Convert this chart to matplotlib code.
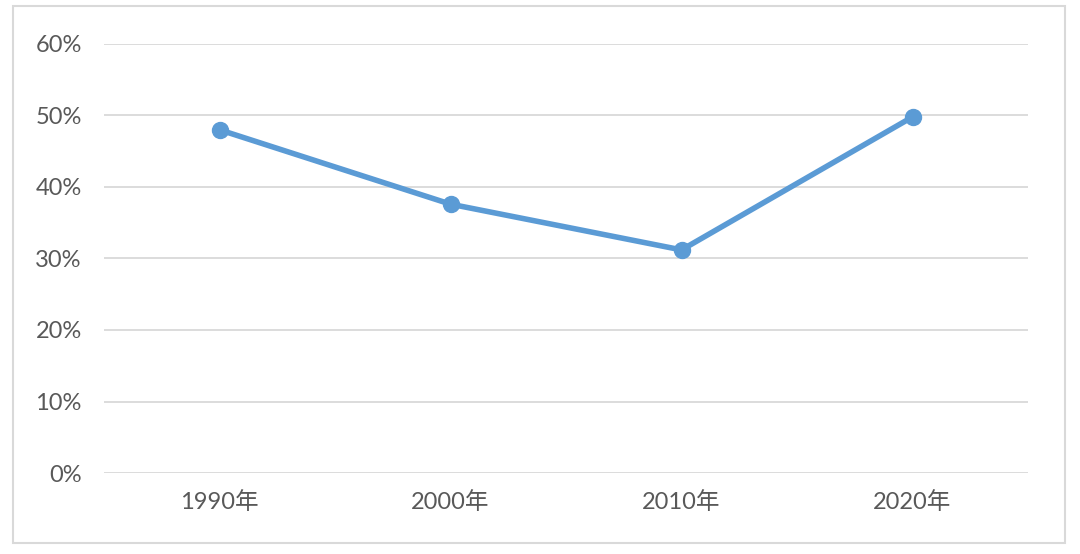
import matplotlib
matplotlib.use('Agg')
from matplotlib import pyplot as plt
from matplotlib.patches import Rectangle

plt.rcParams['font.family'] = ['Lato', 'Noto Sans CJK SC', 'DejaVu Sans']

years = ['1990年', '2000年', '2010年', '2020年']
share = [48.0, 37.6, 31.2, 49.8]
yticks = [0, 10, 20, 30, 40, 50, 60]

fig = plt.figure(figsize=(10.8, 5.54), dpi=100)
ax = fig.add_axes([0.0963, 0.1462, 0.8556, 0.7744])

x = list(range(len(years)))
ax.plot(x, share, '-o', color='#5b9bd5', lw=4, ms=11.5, zorder=3)

ax.set_xlim(-0.5, len(years) - 0.5)
ax.set_ylim(0, 60)
ax.set_yticks(yticks)
ax.set_yticklabels([f'{v}%' for v in yticks])
ax.set_xticks(x)
ax.set_xticklabels(years)
ax.grid(axis='y', color='#d9d9d9', lw=1.3)
ax.set_axisbelow(True)
for s in ax.spines.values():
    s.set_visible(False)
ax.tick_params(length=0, colors='#595959', labelsize=17)
ax.tick_params(axis='y', pad=16)
ax.tick_params(axis='x', pad=13)

# outer border of the chart area
fig.patches.append(Rectangle((0.012, 0.02), 0.974, 0.969, transform=fig.transFigure,
                             fill=False, edgecolor='#d9d9d9', lw=1.5))

fig.savefig('out.png', dpi=100)
